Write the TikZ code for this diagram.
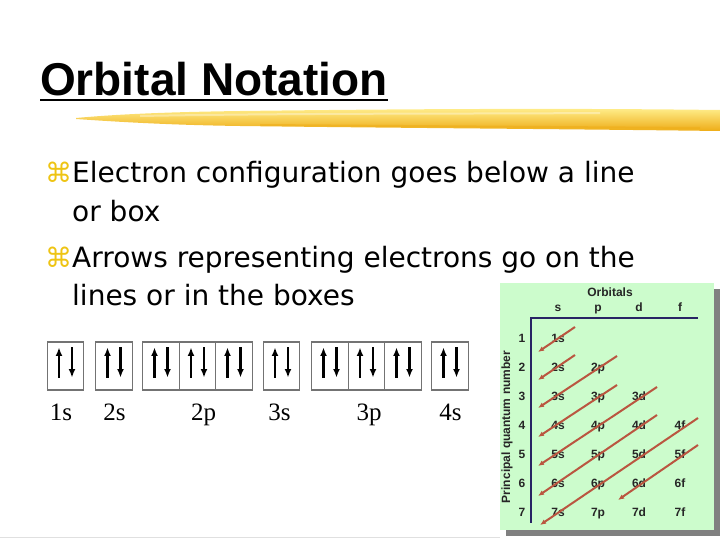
\documentclass[tikz,border=0pt]{standalone}
\usepackage{fontspec}
\usetikzlibrary{arrows.meta}
\newfontfamily\ttlfont{Liberation Sans}
\newfontfamily\bodyfont{DejaVu Sans}
\newfontfamily\lblfont{Liberation Serif}
\definecolor{gold}{RGB}{238,196,20}
\definecolor{brushT}{RGB}{255,238,140}
\definecolor{brushM}{RGB}{250,206,45}
\definecolor{brushB}{RGB}{238,172,22}
\definecolor{panel}{RGB}{204,252,204}
\definecolor{shadowgray}{RGB}{128,128,128}
\definecolor{navy}{RGB}{40,36,100}
\definecolor{rust}{RGB}{186,86,64}
\definecolor{boxgray}{RGB}{115,115,115}
\begin{document}
\begin{tikzpicture}[x=1pt,y=-1pt,
  bullettext/.style={anchor=base west,inner sep=0pt,font=\bodyfont\fontsize{28}{32}\selectfont},
  bulletmark/.style={anchor=base west,inner sep=0pt,text=gold,font=\bodyfont\fontsize{27}{32}\selectfont},
  obox/.style={draw=boxgray,line width=1.1pt,minimum width=36.5pt,minimum height=48pt,inner sep=0pt},
  spin/.style={line width=2.5pt,-{Latex[length=8.5pt,width=7pt]}},
  olabel/.style={anchor=base,inner sep=0pt,font=\lblfont\fontsize{25}{28}\selectfont},
  ctext/.style={inner sep=0pt,text height=8.5pt,text depth=2.5pt,text=black!85,font=\ttlfont\bfseries\fontsize{12}{13}\selectfont},
  axis/.style={navy,line width=2.6pt},
  diag/.style={rust,line width=2pt,-{Latex[length=6pt,width=5pt]}}
]
\useasboundingbox (0,0) rectangle (720,540);

% title
\node[anchor=base west,inner sep=0pt,font=\ttlfont\bfseries\fontsize{46}{50}\selectfont] (title) at (40,96) {Orbital Notation};
\draw[line width=2.4pt] (title.base west) ++(0,4) coordinate (ul1) -- (ul1 -| title.base east);

% brush stroke
\shade[top color=brushT,middle color=brushM,bottom color=brushB]
  (76,118) .. controls (120,114) and (170,112) .. (240,111)
  .. controls (400,109) and (560,108) .. (720,110)
  -- (720,131)
  .. controls (560,129) and (400,128) .. (240,126)
  .. controls (170,125) and (120,122) .. (76,119) -- cycle;
\fill[white,opacity=0.35] (140,115) .. controls (300,112) and (450,113) .. (600,112) -- (600,114) .. controls (450,115) and (300,114) .. (140,117) -- cycle;
\fill[brushB,opacity=0.5] (260,124) .. controls (400,125) and (550,126) .. (700,127) -- (700,129) .. controls (550,128) and (400,127) .. (260,126) -- cycle;

% bullets
\node[bulletmark] (m1) at (45,183) {⌘};
\node[bullettext] (t1a) at (72,183) {Electron configuration goes below a line};
\node[bullettext] (t1b) at (72,222) {or box};
\node[bulletmark] (m2) at (45,267) {⌘};
\node[bullettext] (t2a) at (72,267) {Arrows representing electrons go on the};
\node[bullettext] (t2b) at (72,305) {lines or in the boxes};

% orbital boxes
\foreach \n/\x in {b1/65.5,b2/114,b3/161,b4/197.5,b5/234,b6/281.5,b7/330,b8/366.5,b9/403,b10/450}{
  \node[obox] (\n) at (\x,366) {};
  \draw[spin] ([xshift=-6.5pt,yshift=13pt]\n.south) -- ([xshift=-6.5pt,yshift=-6pt]\n.north);
  \draw[spin] ([xshift=6.5pt,yshift=-6pt]\n.north) -- ([xshift=6.5pt,yshift=13pt]\n.south);
}
\node[olabel] (l1) at (61,420) {1s};
\node[olabel] (l2) at (114.5,420) {2s};
\node[olabel] (l3) at (203.5,420) {2p};
\node[olabel] (l4) at (279.5,420) {3s};
\node[olabel] (l5) at (369,420) {3p};
\node[olabel] (l6) at (450.5,420) {4s};

% bottom rule
\draw[black!12,line width=0.8pt] (0,537) coordinate (r1) -- (500,537) coordinate (r2);

% chart panel
\fill[shadowgray] (506,289) rectangle (720,536);
\fill[panel] (500,283) rectangle (714,530);
\node[ctext] (orb) at (610,293) {Orbitals};
\foreach \c/\x in {s/558,p/598,d/639,f/680}{
  \node[ctext] (h\c) at (\x,308) {\c};
}
\coordinate (o) at (531,318);
\coordinate (xe) at (698,318);
\coordinate (ye) at (531,523);
\draw[axis] (xe) -- (o) -- (ye);
\node[ctext,rotate=90] (pqn) at (507,427) {Principal quantum number};
\foreach \r in {1,...,7}{
  \node[ctext] (n\r) at (522,{339+29*(\r-1)}) {\r};
  \node[ctext] (c\r s) at (558,{339+29*(\r-1)}) {\r s};
}
\foreach \r in {2,...,7}{ \node[ctext] (c\r p) at (598,{339+29*(\r-1)}) {\r p}; }
\foreach \r in {3,...,7}{ \node[ctext] (c\r d) at (639,{339+29*(\r-1)}) {\r d}; }
\foreach \r in {4,...,7}{ \node[ctext] (c\r f) at (680,{339+29*(\r-1)}) {\r f}; }

% diagonal rule arrows
\foreach \i/\ax/\ay/\bx/\by in {1/575/327/538/352, 2/575/355/538/380, 3/617/356/538/408, 4/617/385/538/437, 5/657/387/538/466, 6/657/415/538/496, 7/698/418/540/525, 8/698/445/618/500}{
  \coordinate (d\i a) at (\ax,\ay);
  \coordinate (d\i b) at (\bx,\by);
  \draw[diag] (d\i a) -- (d\i b);
}
\end{tikzpicture}
\end{document}
